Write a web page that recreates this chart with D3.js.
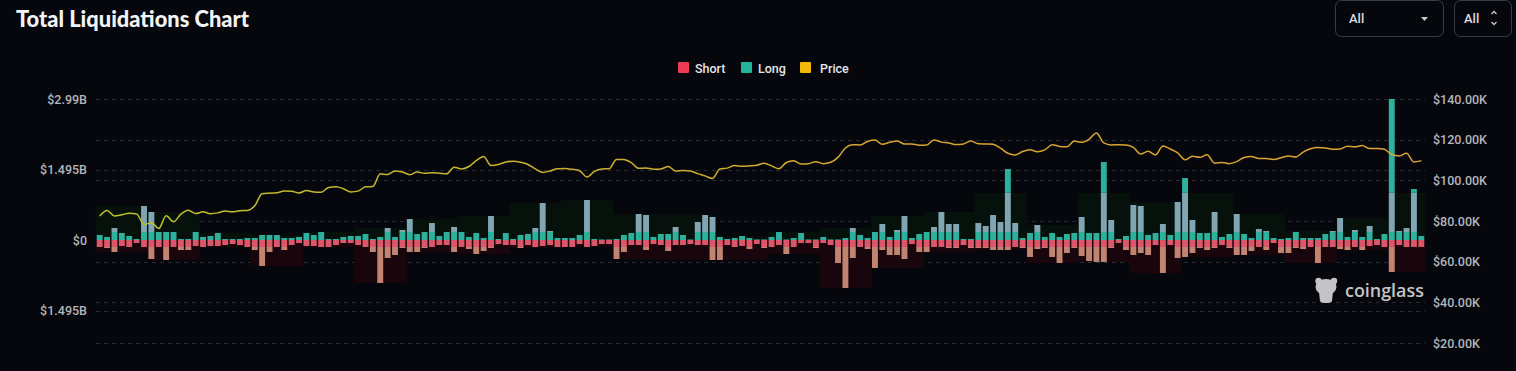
<!DOCTYPE html>
<html>
<head>
<meta charset="utf-8">
<script src="https://cdn.jsdelivr.net/npm/d3@7"></script>
<style>
html, body { margin: 0; padding: 0; background: #06070c; overflow: hidden; }
svg { display: block; font-family: Roboto, "Noto Sans", sans-serif; }
</style>
</head>
<body>
<script>
const SvgWidth = 1516, SvgHeight = 371;

// daily data, first day 2025-03-31
const startDay = "2025-03-31";
// long liquidations, $M (drawn upward)
const longM = [106,64,254,148,85,21,721,594,170,170,170,21,21,170,64,85,148,21,21,21,
  42,42,106,106,106,42,42,64,148,106,170,21,21,64,85,85,127,21,64,254,
  64,212,445,127,170,360,85,170,276,170,64,148,42,509,21,148,21,106,127,254,
  784,191,42,42,42,106,848,21,11,11,21,106,148,551,530,64,127,127,276,106,
  11,382,530,488,64,21,42,85,42,11,11,64,170,11,42,148,11,11,64,11,
  11,42,254,106,42,170,339,64,212,509,42,127,170,276,594,339,339,21,21,360,
  297,530,382,1505,360,42,148,318,64,148,64,127,148,488,148,148,1654,424,21,85,
  742,721,106,148,339,106,806,1314,424,148,148,594,64,127,551,127,42,233,191,42,
  21,42,170,42,42,42,127,191,466,64,212,64,297,21,127,2990,191,254,1081,85];
// short liquidations, $M (drawn downward)
const shortM = [148,170,254,127,148,64,148,403,148,424,148,212,212,127,148,127,127,106,85,106,
  148,212,551,254,148,212,106,64,127,127,148,148,106,64,64,106,148,254,912,382,
  318,170,254,254,170,148,106,106,254,148,191,297,233,170,85,106,106,170,106,148,
  127,106,148,148,148,85,148,127,85,85,403,254,106,106,212,85,106,233,106,106,
  85,106,106,424,424,106,148,127,191,85,170,148,106,297,148,64,64,170,64,106,
  488,1018,382,148,191,594,212,318,318,403,85,254,254,148,148,170,170,106,170,170,
  170,212,212,212,148,170,360,191,170,360,488,276,170,339,445,466,466,170,64,212,
  318,276,318,106,700,106,382,360,276,170,212,170,106,170,318,318,233,148,212,64,
  276,276,170,191,148,488,148,148,191,212,148,212,127,106,148,678,106,148,148,148];
// BTC price, $K
const priceK = [82.5,85.2,82.5,83.1,83.8,83.5,78.2,79.2,76.3,82.6,79.6,83.4,85.3,83.7,84.5,83.6,84.0,84.9,84.5,85.1,
  85.2,87.5,93.4,93.7,93.9,94.7,94.6,93.8,95.0,94.3,94.2,96.5,96.9,95.9,94.3,94.7,96.8,97.0,103.2,102.9,
  104.6,104.1,102.8,104.1,103.5,103.7,103.5,103.2,106.5,105.6,106.8,109.7,111.7,107.3,107.8,109.0,109.4,108.9,107.8,105.6,
  103.9,104.6,105.7,105.8,105.4,104.7,101.6,104.4,105.6,105.7,110.3,110.3,108.7,105.9,106.1,105.5,105.6,106.8,104.6,104.9,
  104.6,103.3,102.2,100.9,105.6,106.0,107.3,106.9,107.1,107.4,108.4,107.1,105.7,108.8,109.6,108.0,108.2,109.2,108.2,108.9,
  111.3,115.9,117.5,117.4,119.1,119.8,117.7,118.7,119.3,117.9,117.9,117.3,117.4,119.9,118.8,118.4,117.6,117.9,119.4,118.0,
  117.9,117.8,115.8,113.3,112.5,114.2,115.0,114.1,115.0,117.5,116.7,116.5,119.3,118.7,120.2,123.3,118.4,117.4,117.5,117.4,
  116.2,112.9,114.3,112.5,116.9,115.4,113.5,110.1,111.8,111.3,112.6,108.4,108.8,108.2,109.2,111.2,111.7,110.7,110.7,110.2,
  111.1,112.0,111.5,113.9,115.5,116.1,115.9,115.3,115.4,116.8,116.5,117.1,115.6,115.7,115.3,112.7,112.0,113.3,109.0,109.7];

const leftTicks = [2990, 1495, 0, -1495];
const leftLabels = ["$2.99B", "$1.495B", "$0", "$1.495B"];
const rightTicks = [140, 120, 100, 80, 60, 40, 20];
const legendNames = ["Short", "Long", "Price"];
const legendColors = ["#ee3a52", "#22b39b", "#f0b90b"];

const teal = "#2db19d", grayTeal = "#80a5b3", redBand = "#dc566a", tan = "#c08470";

var days = d3.range(longM.length).map(function(i){ return d3.timeDay.offset(new Date(startDay + "T00:00:00"), i); });

var svg = d3.select('body').append('svg')
  .attr('width', SvgWidth).attr('height', SvgHeight)
  .style('background-color', '#06070c');

var x = d3.scaleBand().domain(days).range([96, 1425]).paddingInner(0.2).paddingOuter(0.1);
var yL = d3.scaleLinear().domain([-2990, 2990]).range([381, 99]);
var yR = d3.scaleLinear().domain([0, 140]).range([383.7, 99]);
var bw = x.bandwidth();
var y0 = yL(0), band = 8, capY = yL(1000);

// grid lines
var grid = svg.append('g').attr('stroke', '#252931').attr('stroke-dasharray', '4,4');
leftTicks.forEach(function(t){
  grid.append('line').attr('x1', 96).attr('x2', 1425).attr('y1', Math.round(yL(t)) + 0.5).attr('y2', Math.round(yL(t)) + 0.5);
});
rightTicks.forEach(function(t){
  grid.append('line').attr('x1', 96).attr('x2', 1425).attr('y1', Math.round(yR(t)) + 0.5).attr('y2', Math.round(yR(t)) + 0.5);
});

// weekly envelopes behind the bars (faint)
var weeks = d3.range(0, days.length, 7).map(function(s){
  var e = Math.min(s + 7, days.length);
  return {s: s, e: e - 1, hi: d3.max(longM.slice(s, e)), lo: d3.max(shortM.slice(s, e))};
});
var env = svg.append('g');
env.selectAll('.envUp').data(weeks).enter().append('rect')
  .attr('x', function(w){ return x(days[w.s]) - 1; })
  .attr('width', function(w){ return x(days[w.e]) + bw + 1 - x(days[w.s]) + 1; })
  .attr('y', function(w){ return Math.max(yL(w.hi), capY); })
  .attr('height', function(w){ return y0 - Math.max(yL(w.hi), capY); })
  .attr('fill', '#07110c');
env.selectAll('.envDown').data(weeks).enter().append('rect')
  .attr('x', function(w){ return x(days[w.s]) - 1; })
  .attr('width', function(w){ return x(days[w.e]) + bw + 1 - x(days[w.s]) + 1; })
  .attr('y', y0)
  .attr('height', function(w){ return yL(-w.lo) - y0; })
  .attr('fill', '#19060c');

// long bars: teal band at base, muted middle, teal above the cap
var bars = svg.append('g');
bars.selectAll('.lb').data(days).enter().append('rect')
  .attr('x', function(d){ return x(d); }).attr('width', bw)
  .attr('y', function(d,i){ return Math.max(yL(longM[i]), y0 - band); })
  .attr('height', function(d,i){ return y0 - Math.max(yL(longM[i]), y0 - band); })
  .attr('fill', teal);
bars.selectAll('.lm').data(days).enter().append('rect')
  .attr('x', function(d){ return x(d); }).attr('width', bw)
  .attr('y', function(d,i){ return Math.max(yL(longM[i]), capY); })
  .attr('height', function(d,i){ return Math.max(0, (y0 - band) - Math.max(yL(longM[i]), capY)); })
  .attr('fill', grayTeal);
bars.selectAll('.lt').data(days).enter().append('rect')
  .attr('x', function(d){ return x(d); }).attr('width', bw)
  .attr('y', function(d,i){ return yL(longM[i]); })
  .attr('height', function(d,i){ return Math.max(0, capY - yL(longM[i])); })
  .attr('fill', teal);

// short bars: red band at base, tan below
bars.selectAll('.sb').data(days).enter().append('rect')
  .attr('x', function(d){ return x(d); }).attr('width', bw)
  .attr('y', y0)
  .attr('height', function(d,i){ return Math.min(yL(-shortM[i]) - y0, 7); })
  .attr('fill', redBand);
bars.selectAll('.st').data(days).enter().append('rect')
  .attr('x', function(d){ return x(d); }).attr('width', bw)
  .attr('y', y0 + 7)
  .attr('height', function(d,i){ return Math.max(0, yL(-shortM[i]) - y0 - 7); })
  .attr('fill', tan);

// price line
var defs = svg.append('defs');
var grad = defs.append('linearGradient').attr('id', 'priceGrad')
  .attr('gradientUnits', 'userSpaceOnUse').attr('x1', 96).attr('x2', 1425).attr('y1', 0).attr('y2', 0);
grad.append('stop').attr('offset', '0%').attr('stop-color', '#bcc22c');
grad.append('stop').attr('offset', '30%').attr('stop-color', '#c9b22e');
grad.append('stop').attr('offset', '65%').attr('stop-color', '#d6a42f');
grad.append('stop').attr('offset', '100%').attr('stop-color', '#dca232');

var line = d3.line()
  .x(function(d,i){ return x(days[i]) + bw / 2; })
  .y(function(d){ return yR(d); })
  .curve(d3.curveMonotoneX);
svg.append('path').datum(priceK)
  .attr('fill', 'none').attr('stroke', 'url(#priceGrad)')
  .attr('stroke-width', 1.5).attr('stroke-linejoin', 'round')
  .attr('d', line);

// axes
var axL = svg.append('g').attr('transform', 'translate(87,0)')
  .call(d3.axisLeft(yL).tickValues(leftTicks).tickSize(0)
    .tickFormat(function(d,i){ return leftLabels[i]; }));
var axR = svg.append('g').attr('transform', 'translate(1433,0)')
  .call(d3.axisRight(yR).tickValues(rightTicks).tickSize(0).tickPadding(0)
    .tickFormat(function(d){ return '$' + d.toFixed(2) + 'K'; }));
[axL, axR].forEach(function(a){
  a.select('.domain').remove();
  a.selectAll('text').attr('fill', '#b3b5bb').style('font-size', '12.5px')
    .style('font-weight', 500).style('font-family', 'Roboto, sans-serif');
});
axL.selectAll('text').attr('x', 0);

// title
var title = svg.append('text').attr('x', 16).attr('y', 27)
  .attr('fill', '#f2f3f5').style('font-family', 'Lato, sans-serif')
  .style('font-weight', 900).style('font-size', '20px')
  .text('Total Liquidations Chart');
var tw = title.node().getComputedTextLength();
title.style('font-size', (20 * 233 / tw).toFixed(2) + 'px');

// legend
var legX = [678, 741, 800], legTx = [695, 758, 820];
var leg = svg.append('g');
legendNames.forEach(function(n, i){
  leg.append('rect').attr('x', legX[i]).attr('y', 62).attr('width', 11).attr('height', 11)
    .attr('rx', 1).attr('fill', legendColors[i]);
  leg.append('text').attr('x', legTx[i]).attr('y', 72.5).text(n)
    .attr('fill', '#e4e5e8').style('font-size', '12.5px').style('font-weight', 500);
});

// selectors top right
var sel = svg.append('g');
sel.append('rect').attr('x', 1335.5).attr('y', 0.5).attr('width', 108).attr('height', 36)
  .attr('rx', 6).attr('fill', '#06070c').attr('stroke', '#3a3d45');
sel.append('text').attr('x', 1349).attr('y', 23).text('All')
  .attr('fill', '#dcdde0').style('font-size', '13px').style('font-weight', 500);
sel.append('path').attr('d', 'M1421,17 L1428,17 L1424.5,21 Z').attr('fill', '#c9cacd');
sel.append('rect').attr('x', 1454.5).attr('y', 0.5).attr('width', 57).attr('height', 36)
  .attr('rx', 6).attr('fill', '#06070c').attr('stroke', '#3a3d45');
sel.append('text').attr('x', 1464).attr('y', 23).text('All')
  .attr('fill', '#dcdde0').style('font-size', '13px').style('font-weight', 500);
sel.append('path').attr('d', 'M1491.5,14 L1494,11.5 L1496.5,14 M1491.5,22 L1494,24.5 L1496.5,22')
  .attr('fill', 'none').attr('stroke', '#c9cacd').attr('stroke-width', 1.3);

// watermark
var wm = svg.append('g').attr('fill', '#c4c4c6');
wm.append('circle').attr('cx', 1318.5).attr('cy', 281).attr('r', 3.2);
wm.append('circle').attr('cx', 1334).attr('cy', 281).attr('r', 3.2);
wm.append('ellipse').attr('cx', 1326).attr('cy', 287).attr('rx', 10.5).attr('ry', 8);
wm.append('path').attr('d', 'M1319,292 L1333,292 L1332,301 Q1331,303 1328,303 L1324,303 Q1321,303 1320,301 Z');
var wt = wm.append('text').attr('x', 1345).attr('y', 297).text('coinglass')
  .style('font-family', '"Open Sans", sans-serif').style('font-weight', 600).style('font-size', '19px');
var ww = wt.node().getComputedTextLength();
wt.style('font-size', (19 * 79 / ww).toFixed(2) + 'px');
</script>
</body>
</html>
